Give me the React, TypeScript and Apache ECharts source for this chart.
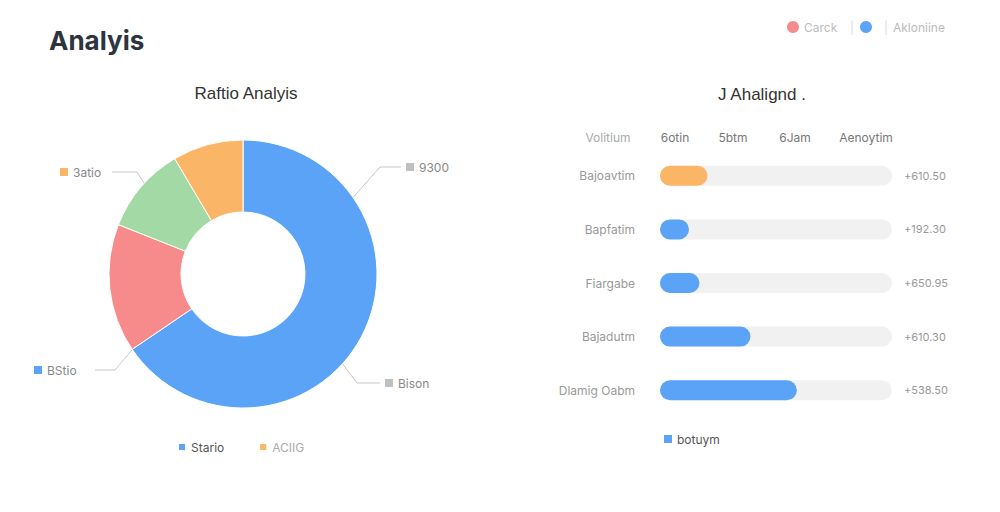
import React, { useEffect, useRef } from "react";
import * as echarts from "echarts";

const pieNames = ["Stario", "Rtio", "Gtio", "ACIIG"];
const pieValues = [65.5, 15.5, 10.5, 8.5];
const pieColors = ["#5ba3f7", "#f78b8b", "#a3d9a5", "#fab666"];

const barCategories = ["Bajoavtim", "Bapfatim", "Fiargabe", "Bajadutm", "Dlamig Oabm"];
const barValues = [20.5, 12.5, 17, 39, 59];
const barValueLabels = ["+610.50", "+192.30", "+650.95", "+610.30", "+538.50"];
const headerLabels = ["Volitium", "6otin", "5btm", "6Jam", "Aenoytim"];

const FONT = "Inter, 'Open Sans', sans-serif";

export default function App() {
  const ref = useRef<HTMLDivElement>(null);
  useEffect(() => {
    const chart = echarts.init(ref.current!, null, { renderer: "svg" });
    const headerX = [608, 675, 733, 795, 866];
    const callout = (pts: number[][], sx: number, sy: number, color: string, text: string) => [
      { type: "polyline", shape: { points: pts }, style: { stroke: "#c8c8c8", lineWidth: 1, fill: "none" } },
      { type: "rect", shape: { x: sx, y: sy - 4, width: 8, height: 8 }, style: { fill: color } },
      { type: "text", x: sx + 13, y: sy, style: { text, fill: "#888", font: `12px ${FONT}`, textVerticalAlign: "middle" } },
    ];
    chart.setOption({
      animation: false,
      backgroundColor: "#ffffff",
      textStyle: { fontFamily: FONT },
      title: [
        { text: "Analyis", left: 44, top: 22, textStyle: { fontSize: 26, fontWeight: "bold", color: "#2e3340", fontFamily: FONT } },
        { text: "Raftio Analyis", left: 241, top: 80, textAlign: "center", textStyle: { fontSize: 17, fontWeight: "normal", color: "#333", fontFamily: "'Liberation Sans', Arial, sans-serif" } },
        { text: "J Ahalignd .", left: 757, top: 81, textAlign: "center", textStyle: { fontSize: 17, fontWeight: "normal", color: "#333", fontFamily: "'Liberation Sans', Arial, sans-serif" } },
      ],
      legend: [
        {
          data: [{ name: "Stario" }, { name: "ACIIG", textStyle: { color: "#aaa" } }],
          left: 172, top: 436, icon: "rect", itemWidth: 8, itemHeight: 8, itemGap: 34,
          textStyle: { color: "#555", fontSize: 12, fontFamily: FONT },
        },
        {
          data: ["botuym"], left: 659, top: 428, icon: "rect", itemWidth: 8, itemHeight: 8,
          textStyle: { color: "#555", fontSize: 12, fontFamily: FONT },
        },
      ],
      grid: { left: 660, right: 108, top: 149, bottom: 95 },
      xAxis: { type: "value", min: 0, max: 100, show: false },
      yAxis: [
        {
          type: "category", data: barCategories, inverse: true,
          axisLine: { show: false }, axisTick: { show: false },
          axisLabel: { color: "#999", fontSize: 12, margin: 25, fontFamily: FONT },
        },
        {
          type: "category", data: barValueLabels, inverse: true, position: "right",
          axisLine: { show: false }, axisTick: { show: false },
          axisLabel: { color: "#999", fontSize: 11, margin: 12, fontFamily: FONT },
        },
      ],
      series: [
        {
          type: "pie", name: "ratio", center: [243, 274], radius: [62, 134], startAngle: 90,
          label: { show: false }, labelLine: { show: false },
          itemStyle: { borderColor: "#fff", borderWidth: 1 },
          data: pieNames.map((n, i) => ({ name: n, value: pieValues[i], itemStyle: { color: pieColors[i] } })),
        },
        {
          type: "bar", name: "botuym", yAxisIndex: 0, barWidth: 20,
          showBackground: true,
          backgroundStyle: { color: "#f1f1f1", borderRadius: 10 },
          itemStyle: { color: "#5ba3f7", borderRadius: 10 },
          data: barValues.map((v, i) => (i === 0 ? { value: v, itemStyle: { color: "#fab666" } } : v)),
        },
      ],
      graphic: [
        ...headerLabels.map((t, i) => ({
          type: "text", x: headerX[i], y: 137,
          style: { text: t, fill: i === 0 ? "#aaa" : "#777", font: `12px ${FONT}`, textAlign: "center", textVerticalAlign: "middle" },
        })),
        ...callout([[342, 210], [380, 167], [401, 167]], 406, 167, "#c0c0c0", "9300"),
        ...callout([[330, 347], [357, 383], [380, 383]], 385, 383, "#c0c0c0", "Bison"),
        ...callout([[158, 205], [137, 172], [112, 172]], 60, 172, "#fab666", "3atio"),
        ...callout([[132, 350], [115, 370], [95, 370]], 34, 370, "#5ba3f7", "BStio"),
        { type: "circle", shape: { cx: 793, cy: 27, r: 6 }, style: { fill: "#f78b8b" } },
        { type: "text", x: 804, y: 27, style: { text: "Carck", fill: "#bbb", font: `12px ${FONT}`, textVerticalAlign: "middle" } },
        { type: "text", x: 850, y: 27, style: { text: "|", fill: "#ddd", font: `12px ${FONT}`, textVerticalAlign: "middle" } },
        { type: "circle", shape: { cx: 866, cy: 27, r: 6 }, style: { fill: "#5ba3f7" } },
        { type: "text", x: 884, y: 27, style: { text: "|", fill: "#ddd", font: `12px ${FONT}`, textVerticalAlign: "middle" } },
        { type: "text", x: 893, y: 27, style: { text: "Akloniine", fill: "#bbb", font: `12px ${FONT}`, textVerticalAlign: "middle" } },
      ],
    });
    return () => chart.dispose();
  }, []);
  return <div ref={ref} style={{ position: "fixed", left: 0, top: 0, width: 1000, height: 512 }} />;
}
